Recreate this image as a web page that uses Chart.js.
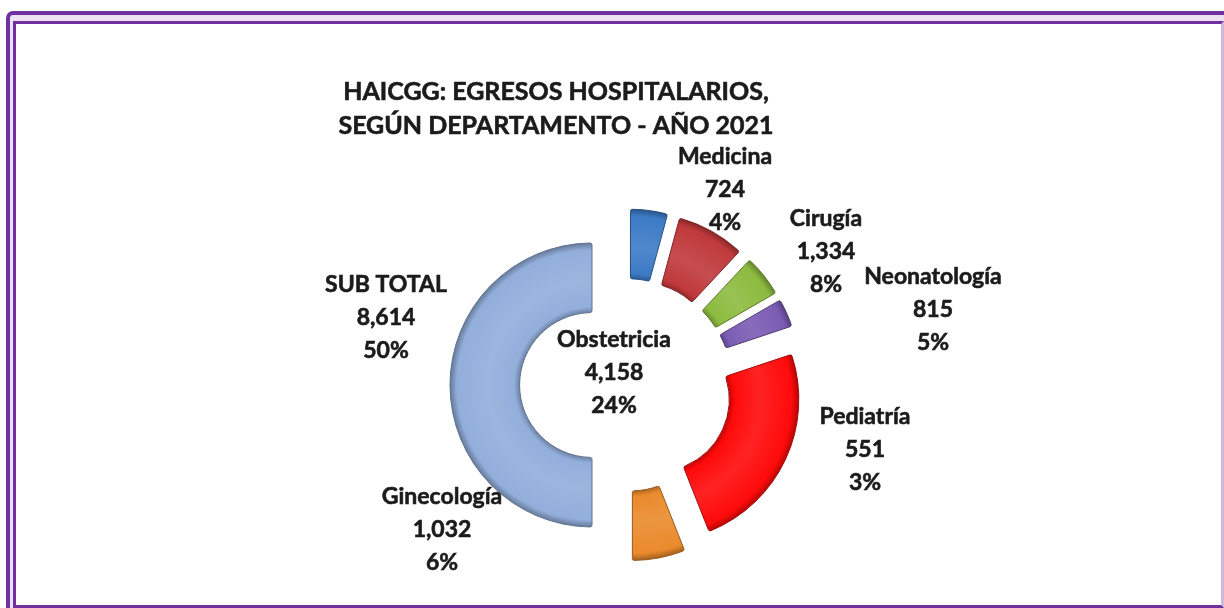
<!DOCTYPE html>
<html>
<head>
<meta charset="utf-8">
<script src="https://cdn.jsdelivr.net/npm/chart.js@4.4.1/dist/chart.umd.min.js"></script>
<style>
body { margin: 0; background: #fff; overflow: hidden; }
#wrap { position: relative; width: 1224px; height: 608px; overflow: hidden; }
.frame_outer { position: absolute; left: 6px; top: 11px; width: 1250px; height: 640px;
  border: 4px solid #7030a0; border-radius: 7px; background: #ece2f4; box-sizing: border-box; }
.frame_inner { position: absolute; left: 13px; top: 21px; width: 1211px; height: 587px;
  border: 3px solid #7030a0; border-right-color: #cdb8de; background: #fff; box-sizing: border-box; }
canvas { position: absolute; left: 0; top: 0; }
</style>
</head>
<body>
<div id="wrap">
  <div class="frame_outer"></div>
  <div class="frame_inner"></div>
  <canvas id="chart_canvas" width="1224" height="608"></canvas>
</div>
<script>
var categories = ['Medicina', 'Cirugía', 'Neonatología', 'Pediatría', 'Obstetricia', 'Ginecología', 'SUB TOTAL'];
var egresos = [724, 1334, 815, 551, 4158, 1032, 8614];
var colors = ['#3d7bc6', '#c0393b', '#8dbb3f', '#7b5cb3', '#ff0a0a', '#ea8a2c', '#92aedb'];
var title_lines = ['HAICGG: EGRESOS HOSPITALARIOS,', 'SEGÚN DEPARTAMENTO - AÑO 2021'];

// where each data label sits, measured from the centre of the ring (px)
var label_pos = [[99, -195], [200, -133], [307, -75], [239, 65], [-12, -12], [-184, 145], [-240, -67]];
var explode = 34;     // every slice pulled out this far
var ring_r = 142;
var cutout_pct = 51;
var label_font = 'bold 23px Lato';
var line_h = 33;

var total = egresos.reduce(function(a, b){ return a + b; }, 0);

function shade(hex, f) {
    var n = parseInt(hex.slice(1), 16);
    var c = [n >> 16, (n >> 8) & 255, n & 255].map(function(v){
        return Math.round(f < 0 ? v * (1 + f) : v + (255 - v) * f);
    });
    return 'rgb(' + c.join(',') + ')';
}

function mid_angle(i) {
    var before = 0;
    for (var k = 0; k < i; k++) before += egresos[k];
    return -Math.PI / 2 + (before + egresos[i] / 2) / total * 2 * Math.PI;
}

// excel-ish bevel: darker rims, lighter band in the middle of the ring
function ring_fill(c) {
    var chart = c.chart, area = chart.chartArea, i = c.dataIndex;
    if (!area || i === undefined) return colors[i];
    var a = mid_angle(i);
    var x = (area.left + area.right) / 2 + explode * Math.cos(a);
    var y = (area.top + area.bottom) / 2 + explode * Math.sin(a);
    var hole = ring_r * cutout_pct / 100;
    var g = chart.ctx.createRadialGradient(x, y, hole, x, y, ring_r);
    g.addColorStop(0, shade(colors[i], -0.25));
    g.addColorStop(0.08, colors[i]);
    g.addColorStop(0.45, shade(colors[i], 0.1));
    g.addColorStop(0.9, colors[i]);
    g.addColorStop(1, shade(colors[i], -0.3));
    return g;
}

var explode_plugin = {
    id: 'explode',
    afterDatasetsUpdate: function(chart) {
        var area = chart.chartArea;
        var cx = (area.left + area.right) / 2, cy = (area.top + area.bottom) / 2;
        chart.getDatasetMeta(0).data.forEach(function(arc){
            var a = (arc.startAngle + arc.endAngle) / 2;
            arc.x = cx + explode * Math.cos(a);
            arc.y = cy + explode * Math.sin(a);
        });
    }
};

// bold text with a hairline stroke so it reads as heavy as the original
function heavy_text(ctx, t, x, y) {
    ctx.strokeText(t, x, y);
    ctx.fillText(t, x, y);
}

var text_plugin = {
    id: 'texts',
    afterDraw: function(chart) {
        var ctx = chart.ctx, area = chart.chartArea;
        var cx = (area.left + area.right) / 2, cy = (area.top + area.bottom) / 2;
        ctx.save();
        ctx.fillStyle = '#1b1b1b';
        ctx.strokeStyle = '#1b1b1b';
        ctx.lineWidth = 0.6;
        ctx.textAlign = 'center';
        ctx.textBaseline = 'middle';

        ctx.font = 'bold 25px Lato';
        title_lines.forEach(function(t, k){
            heavy_text(ctx, t, cx - 70, 92 + k * 34);
        });

        ctx.font = label_font;
        categories.forEach(function(name, i){
            var x = cx + label_pos[i][0], y = cy + label_pos[i][1];
            var lines = [name, egresos[i].toLocaleString('en-US'), Math.round(egresos[i] / total * 100) + '%'];
            lines.forEach(function(t, k){
                heavy_text(ctx, t, x, y + (k - 1) * line_h);
            });
        });
        ctx.restore();
    }
};

var canvas = document.getElementById('chart_canvas');
var egresos_chart = new Chart(canvas.getContext('2d'), {
    type: 'doughnut',
    data: {
        labels: categories,
        datasets: [{
            data: egresos,
            backgroundColor: ring_fill,
            borderColor: colors.map(function(c){ return shade(c, -0.35); }),
            borderWidth: 1,
            borderRadius: 2,
            hoverOffset: 0
        }]
    },
    options: {
        responsive: false,
        animation: false,
        devicePixelRatio: 1,
        radius: ring_r,
        cutout: cutout_pct + '%',
        layout: { padding: { left: 376, right: 348, top: 185, bottom: 23 } },
        plugins: {
            legend: { display: false },
            title: { display: false },
            tooltip: { enabled: false }
        }
    },
    plugins: [explode_plugin, text_plugin]
});
</script>
</body>
</html>
